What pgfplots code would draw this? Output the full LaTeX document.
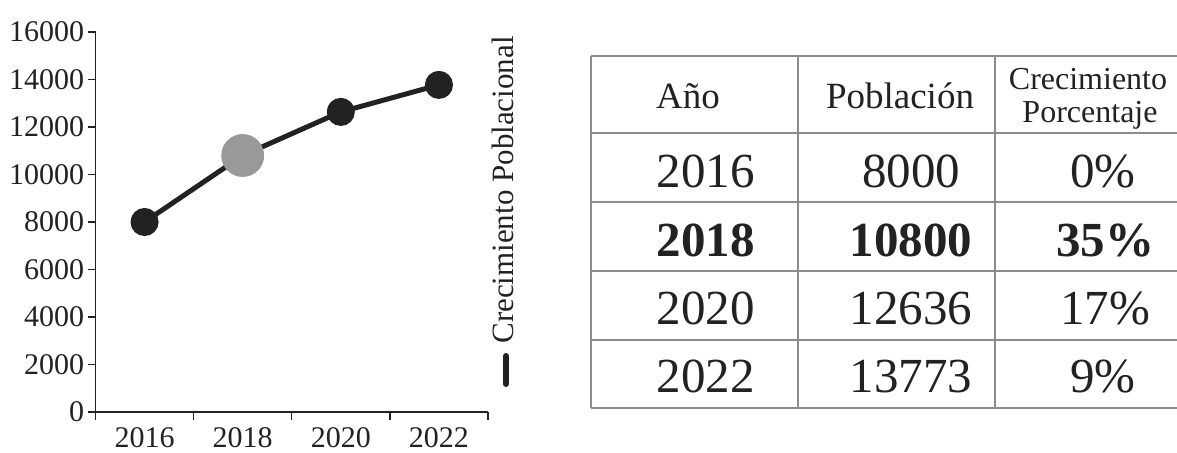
\documentclass[border=0pt]{standalone}
\usepackage{pgfplots}
\pgfplotsset{compat=1.18}
\usepackage{fontspec}
\setmainfont{Liberation Serif}
\definecolor{ink}{HTML}{222222}
\definecolor{gridgray}{HTML}{8C8C8C}
\begin{document}
\begin{tikzpicture}
\useasboundingbox (0,0) rectangle (588.5pt,226pt);
\begin{axis}[
  at={(47.75pt,20pt)}, anchor=south west,
  scale only axis, width=196.25pt, height=190pt,
  xmin=-0.5, xmax=3.5, ymin=0, ymax=16000,
  axis x line*=bottom, axis y line*=left,
  axis line style={-, color=ink, line width=0.7pt},
  xtick={-0.5,0.5,1.5,2.5,3.5},
  x tick label as interval=true,
  xticklabels={2016,2018,2020,2022},
  ytick={0,2000,...,16000},
  scaled y ticks=false,
  tick align=outside, major tick length=4pt,
  tick style={color=ink, line width=0.7pt},
  /pgf/number format/assume math mode=true,
  /pgf/number format/1000 sep={},
  ticklabel style={font=\fontsize{15}{18}\selectfont, text=ink},
  yticklabel style={inner sep=1.5pt},
  xticklabel style={inner sep=3.5pt},
  clip=false,
]
\addplot[only marks, mark=*, mark size=10.5pt, color=black!40, mark options={draw=none, fill=black!40}] coordinates {(1,10800)};
\addplot[color=ink, line width=2.5pt, mark=*, mark size=5.75pt, mark indices={1,3,4}, mark options={draw=none, fill=ink}] coordinates {(0,8000) (1,10800) (2,12636) (3,13773)};
\end{axis}
% legend
\draw[ink, line width=3pt, line cap=round] (253pt,48pt) -- (253pt,34pt);
\node[rotate=90, text=ink, font=\fontsize{15.5}{18}\selectfont] at (251.5pt,131pt) {Crecimiento Poblacional};
% table
\begin{scope}[gridgray, line width=0.6pt]
\foreach \yy in {198,159.5,125,90.5,56,22} { \draw (295.5pt,\yy pt) -- (588.5pt,\yy pt); }
\foreach \xx in {295.5,399,497.5} { \draw (\xx pt,198pt) -- (\xx pt,22pt); }
\end{scope}
\begin{scope}[text=ink]
\tikzset{hd/.style={anchor=base, inner sep=0pt, font=\fontsize{18.5}{20}\selectfont}}
\node[hd] at (344pt,172pt) {Año};
\node[hd] at (450pt,172pt) {Población};
\node[hd, font=\fontsize{16}{18}\selectfont] at (544pt,181.5pt) {Crecimiento};
\node[hd, font=\fontsize{16}{18}\selectfont] at (545pt,165pt) {Porcentaje};
\tikzset{cell/.style={anchor=base, inner sep=0pt, font=\fontsize{24.5}{28}\selectfont},
         bcell/.style={anchor=base, inner sep=0pt, font=\bfseries\fontsize{24.5}{28}\selectfont}}
\node[cell] at (352.75pt,132.5pt) {2016};
\node[cell] at (455.5pt,132.5pt) {8000};
\node[cell] at (551.5pt,132.5pt) {0\%};
\node[bcell] at (352.75pt,98pt) {2018};
\node[bcell] at (455.5pt,98pt) {10800};
\node[bcell] at (552.5pt,98pt) {35\%};
\node[cell] at (352.75pt,64pt) {2020};
\node[cell] at (455.5pt,64pt) {12636};
\node[cell] at (552.5pt,64pt) {17\%};
\node[cell] at (352.75pt,30pt) {2022};
\node[cell] at (455.5pt,30pt) {13773};
\node[cell] at (551.5pt,30pt) {9\%};
\end{scope}
\end{tikzpicture}
\end{document}
